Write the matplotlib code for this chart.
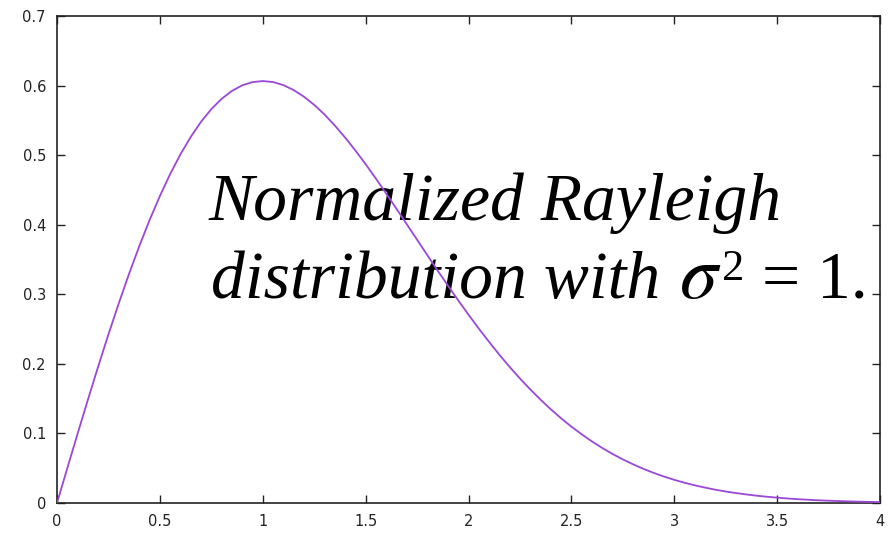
import matplotlib
matplotlib.use("Agg")
import matplotlib.pyplot as plt

x_vals = [0.0, 0.05, 0.1, 0.15, 0.2, 0.25, 0.3, 0.35, 0.4, 0.45, 0.5, 0.55, 0.6, 0.65, 0.7, 0.75,
          0.8, 0.85, 0.9, 0.95, 1.0, 1.05, 1.1, 1.15, 1.2, 1.25, 1.3, 1.35, 1.4, 1.45, 1.5,
          1.55, 1.6, 1.65, 1.7, 1.75, 1.8, 1.85, 1.9, 1.95, 2.0, 2.05, 2.1, 2.15, 2.2, 2.25,
          2.3, 2.35, 2.4, 2.45, 2.5, 2.55, 2.6, 2.65, 2.7, 2.75, 2.8, 2.85, 2.9, 2.95, 3.0,
          3.05, 3.1, 3.15, 3.2, 3.25, 3.3, 3.35, 3.4, 3.45, 3.5, 3.55, 3.6, 3.65, 3.7, 3.75,
          3.8, 3.85, 3.9, 3.95, 4.0]
y_vals = [0.0, 0.0499, 0.0995, 0.1483, 0.1960, 0.2423, 0.2868, 0.3292, 0.3692, 0.4067, 0.4412,
          0.4728, 0.5012, 0.5262, 0.5479, 0.5661, 0.5809, 0.5923, 0.6003, 0.6050, 0.6065,
          0.6051, 0.6007, 0.5936, 0.5841, 0.5723, 0.5585, 0.5427, 0.5254, 0.5068, 0.4870,
          0.4663, 0.4448, 0.4229, 0.4007, 0.3785, 0.3562, 0.3341, 0.3125, 0.2913, 0.2707,
          0.2507, 0.2316, 0.2131, 0.1956, 0.1790, 0.1633, 0.1486, 0.1347, 0.1218, 0.1098,
          0.0988, 0.0885, 0.0791, 0.0705, 0.0627, 0.0556, 0.0491, 0.0433, 0.0380, 0.0333,
          0.0291, 0.0254, 0.0221, 0.0191, 0.0165, 0.0143, 0.0123, 0.0105, 0.0090, 0.0077,
          0.0065, 0.0055, 0.0047, 0.0039, 0.0033, 0.0028, 0.0023, 0.0019, 0.0016, 0.0013]
x_ticks = [0, 0.5, 1, 1.5, 2, 2.5, 3, 3.5, 4]
x_ticklabels = ["0", "0.5", "1", "1.5", "2", "2.5", "3", "3.5", "4"]
y_ticks = [0, 0.1, 0.2, 0.3, 0.4, 0.5, 0.6, 0.7]
y_ticklabels = ["0", "0.1", "0.2", "0.3", "0.4", "0.5", "0.6", "0.7"]
line1 = "Normalized Rayleigh"
line2a = "distribution with"
line2b = "$\\sigma$"
line2c = "2"
line2d = "= 1."

plt.rcParams['mathtext.fontset'] = 'stix'

W, H = 892, 534
fig = plt.figure(figsize=(W / 100, H / 100), dpi=100)
ax = fig.add_axes([57 / W, (H - 503) / H, (880 - 57) / W, (503 - 16) / H])
ax.plot(x_vals, y_vals, color='#9b48d4', lw=1.3, zorder=3)
ax.set_xlim(0, 4)
ax.set_ylim(0, 0.7)
ax.set_xticks(x_ticks)
ax.set_xticklabels(x_ticklabels)
ax.set_yticks(y_ticks)
ax.set_yticklabels(y_ticklabels)
ax.tick_params(direction='in', length=6, width=1.0, top=True, right=True,
               labelsize=10.5, labelcolor='#222222', color='#222222', pad=8)
for s in ax.spines.values():
    s.set_linewidth(1.2)
    s.set_color('#222222')


def put(px, py, s, size, **kw):
    return ax.text(px / W, (H - py) / H, s, transform=fig.transFigure, fontsize=size,
                   va='baseline', ha='left', color='black', zorder=2, **kw)


fs = 48.7
put(209, 220, line1, fs, family='Liberation Serif', style='italic')
put(211, 298, line2a, fs, family='Liberation Serif', style='italic')
put(679, 298, line2b, fs + 6)
put(722, 280, line2c, 32, family='Liberation Serif')
put(762, 298, line2d, fs, family='Liberation Serif')

fig.savefig("out.png", dpi=100, facecolor='white')
